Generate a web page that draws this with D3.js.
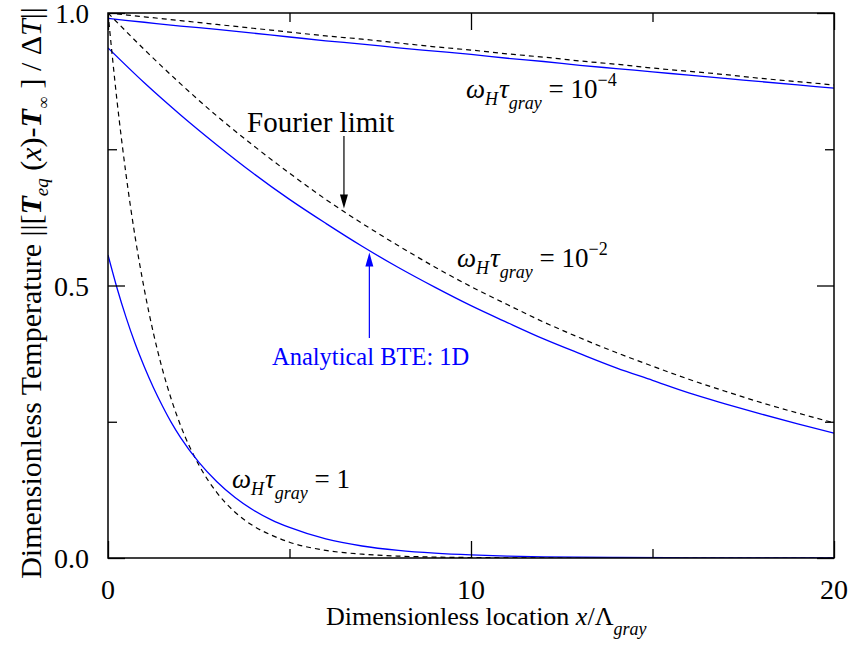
<!DOCTYPE html>
<html>
<head>
<meta charset="utf-8">
<script src="https://cdn.jsdelivr.net/npm/d3@7/dist/d3.min.js"></script>
<style>
  html, body { margin: 0; padding: 0; background: #fff; }
  svg { display: block; }
  text { font-family: "Liberation Serif", "Times New Roman", serif; fill: #000; }
</style>
</head>
<body>
<svg id="chart" width="852" height="655"></svg>
<script>
// Axis ticks
const xTicksMajor = [0, 10, 20];
const xTicksMinor = [5, 15];
const yTicksMajor = [0, 0.5, 1];
const yTicksMinor = [0.25, 0.75];
const yTickLabels = ["0.0", "0.5", "1.0"];

// Sampling locations (x / Lambda_gray)
const xCoarse = [0,1,2,3,4,5,6,7,8,9,10,11,12,13,14,15,16,17,18,19,20];
const xFine = [0,0.25,0.5,0.75,1,1.25,1.5,1.75,2,2.5,3,3.5,4,4.5,5,6,7,8,9,10,11,12,14,16,18,20];

// omega_H tau_gray = 1e-4
const fourier1e4 = [1.000,0.993,0.986,0.979,0.972,0.965,0.958,0.952,0.945,0.938,0.932,0.925,0.919,0.912,0.906,0.899,0.893,0.887,0.880,0.874,0.868];
const bte1e4     = [0.990,0.983,0.976,0.970,0.963,0.956,0.949,0.943,0.936,0.930,0.924,0.917,0.911,0.904,0.898,0.892,0.886,0.880,0.874,0.868,0.862];

// omega_H tau_gray = 1e-2
const fourier1e2 = [1.000,0.933,0.870,0.811,0.757,0.706,0.658,0.614,0.573,0.534,0.498,0.465,0.433,0.404,0.377,0.352,0.328,0.306,0.285,0.266,0.248];
const bte1e2     = [0.936,0.872,0.813,0.758,0.706,0.658,0.614,0.572,0.533,0.497,0.463,0.432,0.402,0.375,0.349,0.326,0.303,0.283,0.264,0.246,0.229];

// omega_H tau_gray = 1
const fourier1 = [1.000,0.838,0.702,0.588,0.493,0.413,0.346,0.290,0.243,0.171,0.120,0.084,0.059,0.042,0.029,0.014,0.007,0.0035,0.0017,0.0009,0.0004,0.0002,0.00005,0.00001,0,0];
const bte1     = [0.556,0.495,0.441,0.393,0.351,0.313,0.279,0.248,0.221,0.176,0.140,0.111,0.088,0.070,0.056,0.035,0.022,0.014,0.0089,0.0056,0.0035,0.0022,0.0009,0.0004,0.0001,0.0001];

const curves = [
  { xs: xCoarse, ys: fourier1e4, kind: "fourier" },
  { xs: xCoarse, ys: bte1e4,     kind: "bte" },
  { xs: xCoarse, ys: fourier1e2, kind: "fourier" },
  { xs: xCoarse, ys: bte1e2,     kind: "bte" },
  { xs: xFine,   ys: fourier1,   kind: "fourier" },
  { xs: xFine,   ys: bte1,       kind: "bte" }
];

const svg = d3.select("#chart");
const pL = 108, pR = 834, pT = 13, pB = 558;
const x = d3.scaleLinear().domain([0, 20]).range([pL, pR]);
const y = d3.scaleLinear().domain([0, 1]).range([pB, pT]);
const blue = "#0000ff";

// Curves
const line = d3.line().x(d => x(d[0])).y(d => y(d[1])).curve(d3.curveMonotoneX);
svg.append("clipPath").attr("id", "clip").append("rect")
  .attr("x", pL).attr("y", pT).attr("width", pR - pL).attr("height", pB - pT);
const lines = svg.append("g").attr("clip-path", "url(#clip)");
curves.forEach(c => {
  lines.append("path")
    .datum(c.xs.map((v, i) => [v, c.ys[i]]))
    .attr("d", line)
    .attr("fill", "none")
    .attr("stroke", c.kind === "bte" ? blue : "#000")
    .attr("stroke-width", c.kind === "bte" ? 1.3 : 1.2)
    .attr("stroke-dasharray", c.kind === "bte" ? null : "5,4");
});

// Frame with inward ticks on all four sides
const major = 17, minor = 9;
function tickSet(axisFn, scale, vals, len, tx, ty) {
  svg.append("g").attr("transform", `translate(${tx},${ty})`)
    .call(axisFn(scale).tickValues(vals).tickSize(-len).tickFormat(""))
    .call(g => g.select(".domain").remove());
}
tickSet(d3.axisBottom, x, xTicksMajor, major, 0, pB);
tickSet(d3.axisBottom, x, xTicksMinor, minor, 0, pB);
tickSet(d3.axisTop, x, xTicksMajor, major, 0, pT);
tickSet(d3.axisTop, x, xTicksMinor, minor, 0, pT);
tickSet(d3.axisLeft, y, yTicksMajor, major, pL, 0);
tickSet(d3.axisLeft, y, yTicksMinor, minor, pL, 0);
tickSet(d3.axisRight, y, yTicksMajor, major, pR, 0);
tickSet(d3.axisRight, y, yTicksMinor, minor, pR, 0);
svg.selectAll(".tick line").attr("stroke", "#000").attr("stroke-width", 1.3);
svg.append("rect").attr("x", pL).attr("y", pT)
  .attr("width", pR - pL).attr("height", pB - pT)
  .attr("fill", "none").attr("stroke", "#000").attr("stroke-width", 1.5);

// Text helper: one text element made of styled pieces
function rich(px, py, size, parts, opts = {}) {
  const tf = `translate(${px},${py})` + (opts.rotate ? ` rotate(${opts.rotate})` : "");
  const t = svg.append("text").attr("transform", tf)
    .attr("text-anchor", opts.anchor || "start")
    .attr("font-size", size).style("fill", opts.color || "#000");
  parts.forEach(p => {
    const s = t.append("tspan").text(p.t);
    if (p.i) s.attr("font-style", "italic");
    if (p.b) s.attr("font-weight", "bold");
    if (p.fs) s.attr("font-size", p.fs);
    if (p.dy) s.attr("dy", p.dy);
    if (p.dx) s.attr("dx", p.dx);
  });
  return t;
}

// Tick labels
xTicksMajor.forEach(v => rich(x(v), 599, 28, [{ t: String(v) }], { anchor: "middle" }));
yTicksMajor.forEach((v, i) => rich(pL - 19, y(v) + 10, i === 2 ? 27 : 28, [{ t: yTickLabels[i] }], { anchor: "end" }));

// Axis titles
rich(326, 625, 26, [
  { t: "Dimensionless location " },
  { t: "x", i: true },
  { t: "/\u039B" },
  { t: "gray", i: true, fs: 18, dy: 10 }
]);
rich(41, 293, 30, [
  { t: "Dimensionless Temperature ||[" },
  { t: "T", i: true, b: true },
  { t: "eq", i: true, fs: 19, dy: 7 },
  { t: " (", dy: -7 },
  { t: "x", i: true },
  { t: ")-" },
  { t: "T", i: true, b: true },
  { t: "\u221E", fs: 17, dy: 8, dx: 1 },
  { t: " ] / \u0394", dy: -8 },
  { t: "T", i: true },
  { t: "||" }
], { anchor: "middle", rotate: -90 });

// Parameter labels
function omegaLabel(px, py, tail, sup) {
  const parts = [
    { t: "\u03C9", i: true },
    { t: "H", i: true, fs: 18, dy: 7 },
    { t: "\u03C4", i: true, dy: -7, dx: 1 },
    { t: "gray", i: true, fs: 18, dy: 11 },
    { t: " = " + tail, dy: -11 }
  ];
  if (sup) parts.push({ t: sup, fs: 18, dy: -12 });
  rich(px, py, 27, parts);
}
omegaLabel(466, 98, "10", "\u22124");
omegaLabel(457, 267, "10", "\u22122");
omegaLabel(232, 488, "1", null);

// Fourier limit callout
rich(247, 132, 29, [{ t: "Fourier limit" }]);
const arrowX = 6.5;
const fTip = y((fourier1e2[6] + fourier1e2[7]) / 2) - 3;
svg.append("line").attr("x1", x(arrowX)).attr("x2", x(arrowX))
  .attr("y1", 136).attr("y2", fTip - 10).attr("stroke", "#000").attr("stroke-width", 1.2);
svg.append("path")
  .attr("d", `M${x(arrowX) - 4},${fTip - 14} L${x(arrowX) + 4},${fTip - 14} L${x(arrowX)},${fTip} Z`)
  .attr("fill", "#000");

// Analytical BTE callout
const bArrowX = 7.2;
const bTip = y(bte1e2[7] + (bte1e2[8] - bte1e2[7]) * 0.2) + 2;
svg.append("line").attr("x1", x(bArrowX)).attr("x2", x(bArrowX))
  .attr("y1", 338).attr("y2", bTip + 10).attr("stroke", blue).attr("stroke-width", 1.2);
svg.append("path")
  .attr("d", `M${x(bArrowX) - 4},${bTip + 14} L${x(bArrowX) + 4},${bTip + 14} L${x(bArrowX)},${bTip} Z`)
  .attr("fill", blue);
rich(272, 365, 24.5, [{ t: "Analytical BTE: 1D" }], { color: blue });
</script>
</body>
</html>
